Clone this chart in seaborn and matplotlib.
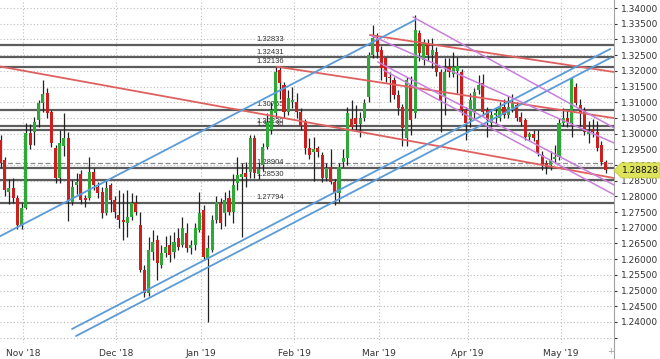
import numpy as np
import pandas as pd
import matplotlib
matplotlib.use("Agg")
import matplotlib.pyplot as plt
import seaborn as sns
from matplotlib.patches import Polygon
from matplotlib.lines import Line2D
from matplotlib.transforms import blended_transform_factory

sns.set_style("white")
plt.rcParams['font.family'] = ['DejaVu Sans']

# GBP/USD daily bars (Dec 25 and Jan 1 are not traded)
dates = pd.bdate_range("2018-10-24", "2019-05-15")
dates = dates[~dates.isin(pd.to_datetime(["2018-12-25", "2019-01-01"]))]

opens = [1.2980, 1.2916, 1.2815, 1.2827, 1.2795, 1.2709, 1.2763, 1.3002, 1.3005, 1.3043,
         1.3097, 1.3129, 1.3069, 1.2955, 1.2859, 1.2960, 1.2985, 1.2782, 1.2835, 1.2870,
         1.2795, 1.2796, 1.2878, 1.2830, 1.2814, 1.2747, 1.2836, 1.2789, 1.2741, 1.2725,
         1.2715, 1.2734, 1.2779, 1.2709, 1.2566, 1.2492, 1.2623, 1.2661, 1.2582, 1.2620,
         1.2646, 1.2623, 1.2667, 1.2645, 1.2683, 1.2636, 1.2645, 1.2693, 1.2757, 1.2604,
         1.2629, 1.2725, 1.2779, 1.2747, 1.2795, 1.2750, 1.2843, 1.2862, 1.2875, 1.2878,
         1.2986, 1.2872, 1.2900, 1.2957, 1.3011, 1.3066, 1.3203, 1.3155, 1.3069, 1.3100,
         1.3100, 1.3069, 1.3040, 1.2954, 1.2940, 1.2955, 1.2932, 1.2859, 1.2894, 1.2846,
         1.2811, 1.2910, 1.2922, 1.3045, 1.3050, 1.3030, 1.3050, 1.3117, 1.3250, 1.3304,
         1.3266, 1.3241, 1.3180, 1.3171, 1.3123, 1.3085, 1.2986, 1.3155, 1.3066, 1.3320,
         1.3234, 1.3289, 1.3250, 1.3260, 1.3196, 1.3117, 1.3212, 1.3190, 1.3200, 1.3196,
         1.3075, 1.3043, 1.3069, 1.3139, 1.3161, 1.3075, 1.3034, 1.3060, 1.3050, 1.3085,
         1.3060, 1.3080, 1.3091, 1.3053, 1.3043, 1.2989, 1.3000, 1.2980, 1.2932, 1.2906,
         1.2900, 1.2920, 1.2925, 1.3034, 1.3050, 1.3034, 1.3148, 1.3091, 1.3075, 1.3000,
         1.3015, 1.3005, 1.2964, 1.2910]
highs = [1.2995, 1.2925, 1.2855, 1.2860, 1.2805, 1.2780, 1.3034, 1.3030, 1.3053, 1.3107,
         1.3171, 1.3145, 1.3075, 1.2965, 1.3010, 1.3065, 1.3005, 1.2852, 1.2875, 1.2885,
         1.2805, 1.2925, 1.2890, 1.2845, 1.2830, 1.2852, 1.2842, 1.2800, 1.2820, 1.2811,
         1.2820, 1.2811, 1.2805, 1.2750, 1.2582, 1.2671, 1.2693, 1.2677, 1.2645, 1.2674,
         1.2677, 1.2687, 1.2700, 1.2734, 1.2715, 1.2661, 1.2715, 1.2814, 1.2773, 1.2677,
         1.2741, 1.2800, 1.2795, 1.2815, 1.2820, 1.2870, 1.2925, 1.2905, 1.2910, 1.2995,
         1.2995, 1.2905, 1.2970, 1.3066, 1.3100, 1.3213, 1.3213, 1.3165, 1.3140, 1.3150,
         1.3130, 1.3080, 1.3045, 1.2985, 1.2990, 1.2960, 1.2940, 1.2905, 1.2950, 1.2855,
         1.2905, 1.2950, 1.3085, 1.3107, 1.3090, 1.3070, 1.3110, 1.3260, 1.3346, 1.3320,
         1.3280, 1.3245, 1.3195, 1.3180, 1.3140, 1.3095, 1.3180, 1.3185, 1.3378, 1.3330,
         1.3300, 1.3300, 1.3305, 1.3275, 1.3205, 1.3240, 1.3240, 1.3260, 1.3245, 1.3205,
         1.3085, 1.3130, 1.3145, 1.3187, 1.3190, 1.3085, 1.3075, 1.3080, 1.3100, 1.3110,
         1.3120, 1.3125, 1.3100, 1.3070, 1.3050, 1.3005, 1.3010, 1.3010, 1.2945, 1.2915,
         1.2945, 1.2965, 1.3050, 1.3080, 1.3075, 1.3180, 1.3160, 1.3110, 1.3085, 1.3040,
         1.3045, 1.3040, 1.2975, 1.2915]
lows = [1.2890, 1.2800, 1.2777, 1.2780, 1.2696, 1.2696, 1.2760, 1.2950, 1.2963, 1.3021,
        1.3069, 1.3050, 1.2957, 1.2843, 1.2843, 1.2930, 1.2723, 1.2773, 1.2808, 1.2775,
        1.2765, 1.2790, 1.2820, 1.2795, 1.2731, 1.2740, 1.2750, 1.2731, 1.2699, 1.2662,
        1.2671, 1.2725, 1.2741, 1.2559, 1.2480, 1.2483, 1.2598, 1.2534, 1.2572, 1.2607,
        1.2591, 1.2604, 1.2630, 1.2639, 1.2623, 1.2617, 1.2630, 1.2687, 1.2598, 1.2400,
        1.2623, 1.2715, 1.2695, 1.2707, 1.2740, 1.2715, 1.2820, 1.2671, 1.2830, 1.2860,
        1.2860, 1.2855, 1.2880, 1.2950, 1.3000, 1.3050, 1.3110, 1.3050, 1.3060, 1.3080,
        1.3050, 1.3010, 1.2935, 1.2920, 1.2850, 1.2925, 1.2846, 1.2850, 1.2840, 1.2773,
        1.2782, 1.2895, 1.2900, 1.3010, 1.3010, 1.2990, 1.3040, 1.3100, 1.3240, 1.3240,
        1.3170, 1.3165, 1.3100, 1.3110, 1.3060, 1.2960, 1.2960, 1.2995, 1.3050, 1.3230,
        1.3220, 1.3230, 1.3208, 1.3185, 1.3005, 1.3060, 1.3180, 1.3180, 1.3130, 1.3060,
        1.2980, 1.3020, 1.3050, 1.3125, 1.3060, 1.2990, 1.3020, 1.3035, 1.3040, 1.3050,
        1.3050, 1.3070, 1.3040, 1.3025, 1.2980, 1.2980, 1.2975, 1.2930, 1.2885, 1.2870,
        1.2885, 1.2905, 1.2915, 1.3025, 1.3020, 1.2990, 1.3090, 1.3025, 1.2995, 1.2970,
        1.2990, 1.2945, 1.2900, 1.2875]
closes = [1.2905, 1.2820, 1.2828, 1.2795, 1.2709, 1.2763, 1.3002, 1.2965, 1.3037, 1.3097,
          1.3126, 1.3066, 1.2970, 1.2859, 1.2970, 1.2985, 1.2790, 1.2830, 1.2845, 1.2790,
          1.2788, 1.2878, 1.2836, 1.2811, 1.2747, 1.2827, 1.2789, 1.2750, 1.2725, 1.2719,
          1.2734, 1.2779, 1.2750, 1.2566, 1.2492, 1.2629, 1.2655, 1.2588, 1.2620, 1.2639,
          1.2614, 1.2655, 1.2639, 1.2699, 1.2636, 1.2645, 1.2699, 1.2747, 1.2607, 1.2636,
          1.2725, 1.2782, 1.2715, 1.2789, 1.2750, 1.2836, 1.2868, 1.2870, 1.2862, 1.2986,
          1.2875, 1.2888, 1.2957, 1.3037, 1.3075, 1.3196, 1.3161, 1.3069, 1.3113, 1.3107,
          1.3069, 1.3025, 1.2954, 1.2932, 1.2950, 1.2940, 1.2859, 1.2890, 1.2846, 1.2811,
          1.2894, 1.2922, 1.3066, 1.3020, 1.3030, 1.3050, 1.3097, 1.3250, 1.3304, 1.3260,
          1.3209, 1.3180, 1.3177, 1.3123, 1.3082, 1.3018, 1.3171, 1.3043, 1.3330, 1.3257,
          1.3292, 1.3250, 1.3266, 1.3196, 1.3107, 1.3196, 1.3196, 1.3212, 1.3215, 1.3075,
          1.3034, 1.3107, 1.3132, 1.3155, 1.3069, 1.3043, 1.3060, 1.3065, 1.3085, 1.3060,
          1.3085, 1.3100, 1.3050, 1.3037, 1.2989, 1.2998, 1.2985, 1.2938, 1.2900, 1.2894,
          1.2916, 1.2925, 1.3034, 1.3050, 1.3037, 1.3177, 1.3097, 1.3066, 1.3005, 1.3005,
          1.3005, 1.2954, 1.2910, 1.28828]

# Horizontal support / resistance levels and their labels
levels = [1.32833, 1.32431, 1.32136, 1.30755, 1.30230, 1.30130, 1.28904, 1.28530, 1.27794]
level_labels = ["1.32833", "1.32431", "1.32136", "1.30755", "1.30230", "1.30130",
                "1.28904", "1.28530", "1.27794"]
ask_level = 1.29055

# Trend lines: (bar index, price) at each end
red_lines = [((-0.2, 1.32140), (145.2, 1.28580)),
             ((65.3, 1.32131), (145.2, 1.30490)),
             ((87.3, 1.33140), (145.2, 1.31958))]
blue_lines = [((-0.2, 1.26725), (98.0, 1.33618)),
              ((16.9, 1.23777), (144.1, 1.32694)),
              ((17.85, 1.23554), (144.1, 1.32408))]
violet_lines = [((87.8, 1.33108), (145.2, 1.29690)),
                ((97.5, 1.33713), (145.2, 1.30170)),
                ((89.2, 1.32280), (145.2, 1.28350)),
                ((90.5, 1.32025), (145.2, 1.28040))]

UP, DOWN = "#2ea836", "#cc1f1f"

df = pd.DataFrame({"date": dates, "open": opens, "high": highs, "low": lows, "close": closes})
df["idx"] = np.arange(len(df))
df["up"] = df["close"] >= df["open"]

fig = plt.figure(figsize=(6.6, 3.59), dpi=100)
ax = fig.add_axes([0, 16 / 359, 614 / 660, 343 / 359])
ax.set_xlim(-0.12, 145.0)
ax.set_ylim(1.233312, 1.342548)

# grid
yt = np.round(np.arange(1.235, 1.3401, 0.005), 3)
ax.set_yticks(yt)
ax.set_yticklabels(["" if v < 1.2375 else f"{v:.5f}" for v in yt])
month_first = df.groupby([df["date"].dt.year, df["date"].dt.month])["idx"].min().values[1:]
month_names = [d.strftime("%b '%y") for d in df["date"].iloc[month_first]]
ax.set_xticks(month_first - 0.6)
ax.set_xticklabels(month_names)
ax.grid(True, linestyle=(0, (1, 2)), color="#bdbdbd", linewidth=0.8)
ax.set_axisbelow(True)

ax.yaxis.tick_right()
ax.tick_params(axis="y", length=2, pad=3, labelsize=6.5, colors="#333333")
ax.tick_params(axis="x", length=0, pad=4, labelsize=6.5, colors="#333333")
for s in ["top", "left", "bottom"]:
    ax.spines[s].set_visible(False)
ax.spines["right"].set_color("#a0a0a0")
ax.spines["right"].set_linewidth(0.8)

# separator below the price scale and the small scale toggle
fig.add_artist(Line2D([614 / 660, 614 / 660], [0, 16 / 359], color="#a0a0a0", lw=0.8))
fig.text(611 / 660, 7 / 359, "+", fontsize=6, color="#9a9a9a", ha="center", va="center")

# levels
for lv, lab in zip(levels, level_labels):
    ax.axhline(lv, color="#5c5c5c", lw=1.6, zorder=1)
    ax.annotate(lab, (60.6, lv), xytext=(0, 1.2), textcoords="offset points",
                fontsize=5.5, family="Liberation Sans", color="#333333",
                va="bottom", ha="left", zorder=1.5)
ax.axhline(ask_level, color="#8a8a8a", lw=0.9, ls=(0, (4, 2)), zorder=1)

# candles
colors = np.where(df["up"], UP, DOWN)
ax.vlines(df["idx"], df["low"], df["high"], color="#222222", lw=0.9, zorder=3)
body_lo = np.minimum(df["open"], df["close"])
body_h = np.maximum(np.abs(df["close"] - df["open"]), 0.00025)
ax.bar(df["idx"], body_h, bottom=body_lo, width=0.72, color=colors, linewidth=0, zorder=4)

# trend lines
def draw_lines(lines, color, lw):
    for (x0, y0), (x1, y1) in lines:
        sns.lineplot(x=[x0, x1], y=[y0, y1], color=color, lw=lw, ax=ax, zorder=5)

draw_lines(red_lines, "#e06060", 1.3)
draw_lines(blue_lines, "#5a9bd8", 1.3)
draw_lines(violet_lines, "#c97fdc", 1.1)
ax.set_xlabel("")
ax.set_ylabel("")

# last price tag
last = closes[-1]
tr = blended_transform_factory(ax.transAxes, ax.transData)
h = 0.0024
tag = Polygon([(1.0, last), (1.012, last + h), (1.075, last + h), (1.075, last - h),
               (1.012, last - h)], closed=True, transform=tr, clip_on=False,
              facecolor="#dde35a", edgecolor="#c8cc40", lw=0.6, zorder=6)
ax.add_patch(tag)
ax.text(1.013, last, f"{last:.5f}", transform=tr, fontsize=6.5, color="#111111",
        va="center", ha="left", zorder=7, clip_on=False)

fig.savefig("out.png", dpi=100)
